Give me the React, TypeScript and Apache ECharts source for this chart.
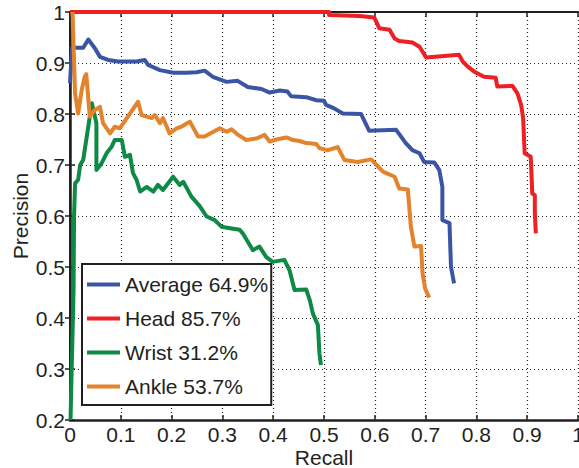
import React, { useEffect, useRef } from "react";
import * as echarts from "echarts";

const seriesNames = ["Average 64.9%", "Head 85.7%", "Wrist 31.2%", "Ankle 53.7%"];
const seriesColors = ["#3a55a4", "#ed2024", "#0d8a45", "#e3832b"];

const averageRecall = [0, 0.004, 0.026, 0.036, 0.049, 0.059, 0.075, 0.095, 0.131, 0.147, 0.154, 0.177, 0.203, 0.229, 0.249, 0.265, 0.281, 0.308, 0.33, 0.35, 0.377, 0.393, 0.413, 0.428, 0.435, 0.465, 0.485, 0.5, 0.504, 0.52, 0.537, 0.573, 0.589, 0.642, 0.661, 0.674, 0.688, 0.697, 0.717, 0.727, 0.733, 0.733, 0.747, 0.75, 0.756];
const averagePrecision = [0.86, 0.93, 0.93, 0.946, 0.929, 0.912, 0.906, 0.903, 0.903, 0.906, 0.896, 0.886, 0.881, 0.881, 0.882, 0.885, 0.873, 0.863, 0.865, 0.853, 0.849, 0.842, 0.846, 0.844, 0.835, 0.833, 0.827, 0.826, 0.818, 0.811, 0.801, 0.8, 0.767, 0.769, 0.743, 0.729, 0.723, 0.706, 0.705, 0.69, 0.657, 0.592, 0.586, 0.5, 0.468];

const headRecall = [0, 0.51, 0.51, 0.57, 0.599, 0.609, 0.629, 0.639, 0.648, 0.674, 0.688, 0.701, 0.766, 0.773, 0.783, 0.796, 0.815, 0.838, 0.841, 0.871, 0.881, 0.888, 0.892, 0.895, 0.907, 0.91, 0.915, 0.915, 0.917];
const headPrecision = [1, 1, 0.994, 0.992, 0.989, 0.968, 0.965, 0.948, 0.943, 0.94, 0.932, 0.911, 0.916, 0.903, 0.893, 0.883, 0.873, 0.871, 0.854, 0.855, 0.84, 0.818, 0.792, 0.723, 0.716, 0.644, 0.641, 0.605, 0.566];

const wristRecall = [0.001, 0.007, 0.008, 0.01, 0.016, 0.02, 0.026, 0.043, 0.052, 0.052, 0.062, 0.072, 0.082, 0.088, 0.102, 0.108, 0.118, 0.124, 0.131, 0.138, 0.151, 0.164, 0.173, 0.183, 0.203, 0.216, 0.223, 0.239, 0.255, 0.269, 0.285, 0.298, 0.321, 0.334, 0.34, 0.36, 0.373, 0.386, 0.399, 0.422, 0.432, 0.442, 0.465, 0.472, 0.478, 0.488, 0.491, 0.494];
const wristPrecision = [0.2, 0.455, 0.6, 0.664, 0.671, 0.7, 0.71, 0.821, 0.782, 0.69, 0.703, 0.723, 0.736, 0.749, 0.749, 0.716, 0.72, 0.684, 0.671, 0.648, 0.657, 0.648, 0.661, 0.651, 0.677, 0.661, 0.667, 0.638, 0.62, 0.599, 0.592, 0.579, 0.575, 0.573, 0.566, 0.533, 0.54, 0.52, 0.51, 0.514, 0.494, 0.455, 0.456, 0.435, 0.409, 0.386, 0.331, 0.308];

const ankleRecall = [0.005, 0.01, 0.016, 0.023, 0.029, 0.032, 0.039, 0.049, 0.059, 0.065, 0.079, 0.088, 0.098, 0.134, 0.141, 0.161, 0.167, 0.177, 0.183, 0.196, 0.21, 0.219, 0.236, 0.252, 0.265, 0.295, 0.308, 0.318, 0.331, 0.347, 0.367, 0.383, 0.393, 0.406, 0.426, 0.439, 0.452, 0.465, 0.485, 0.491, 0.507, 0.527, 0.54, 0.566, 0.593, 0.616, 0.639, 0.648, 0.665, 0.671, 0.678, 0.691, 0.694, 0.699, 0.707];
const anklePrecision = [1, 0.84, 0.801, 0.847, 0.873, 0.878, 0.795, 0.808, 0.814, 0.782, 0.762, 0.775, 0.772, 0.824, 0.798, 0.792, 0.798, 0.782, 0.792, 0.762, 0.772, 0.775, 0.785, 0.756, 0.756, 0.772, 0.765, 0.77, 0.759, 0.749, 0.752, 0.759, 0.746, 0.75, 0.754, 0.749, 0.747, 0.743, 0.741, 0.733, 0.729, 0.735, 0.71, 0.706, 0.711, 0.687, 0.677, 0.654, 0.652, 0.579, 0.54, 0.541, 0.488, 0.458, 0.44];

const recallLists = [averageRecall, headRecall, wristRecall, ankleRecall];
const precisionLists = [averagePrecision, headPrecision, wristPrecision, anklePrecision];

const FONT = "'Liberation Sans', Arial, Helvetica, sans-serif";
const fmt = (v: number) => String(Math.round(v * 10) / 10);

export default function App() {
  const ref = useRef<HTMLDivElement>(null);
  useEffect(() => {
    if (!ref.current) return;
    const chart = echarts.init(ref.current, undefined, { renderer: "svg" });
    const gridLine = { show: true, lineStyle: { type: [1, 3], color: "#222", width: 1.2 } };
    const mainAxis = (name: string, pos: string, nameGap: number) => ({
      type: "value",
      position: pos,
      min: pos === "left" ? 0.2 : 0,
      max: 1,
      interval: 0.1,
      name,
      nameLocation: "middle",
      nameGap,
      nameMoveOverlap: false,
      nameTextStyle: { fontSize: 21, lineHeight: 20, color: "#231f20", fontFamily: FONT },
      axisLine: { show: true, lineStyle: { color: "#231f20", width: 2.5 } },
      axisTick: { show: true, inside: true, length: 5, lineStyle: { color: "#231f20", width: 1.5 } },
      axisLabel: { fontSize: 21, lineHeight: 19, color: "#231f20", fontFamily: FONT, margin: 5, formatter: fmt },
      splitLine: gridLine,
    });
    const boxAxis = (pos: string) => ({
      type: "value",
      position: pos,
      min: pos === "right" ? 0.2 : 0,
      max: 1,
      interval: 0.1,
      axisLine: { show: true, lineStyle: { color: "#231f20", width: 2 } },
      axisTick: { show: true, inside: true, length: 5, lineStyle: { color: "#231f20", width: 1.5 } },
      axisLabel: { show: false },
      splitLine: { show: false },
    });
    chart.setOption({
      animation: false,
      backgroundColor: "#fff",
      grid: { left: 70, top: 12, right: 1, bottom: 48, containLabel: false, outerBoundsMode: "none" },
      xAxis: [mainAxis("Recall", "bottom", 27), boxAxis("top")],
      yAxis: [mainAxis("Precision", "left", 40), boxAxis("right")],
      legend: {
        orient: "vertical",
        left: 82,
        top: 264,
        padding: [10, 3, 8, 5],
        itemGap: 13,
        itemWidth: 33,
        itemHeight: 4,
        icon: "rect",
        borderColor: "#231f20",
        borderWidth: 2,
        backgroundColor: "#fff",
        textStyle: { fontSize: 21, lineHeight: 21, color: "#231f20", fontFamily: FONT },
        data: seriesNames,
        z: 10,
      },
      series: seriesNames.map((name, i) => ({
        name,
        type: "line",
        xAxisIndex: 0,
        yAxisIndex: 0,
        data: recallLists[i].map((r, j) => [r, precisionLists[i][j]]),
        showSymbol: false,
        symbol: "none",
        clip: true,
        color: seriesColors[i],
        lineStyle: { color: seriesColors[i], width: 4, join: "round" },
        emphasis: { disabled: true },
      })),
    });
    return () => chart.dispose();
  }, []);
  return <div ref={ref} style={{ position: "fixed", left: 0, top: 0, width: 579, height: 468 }} />;
}
